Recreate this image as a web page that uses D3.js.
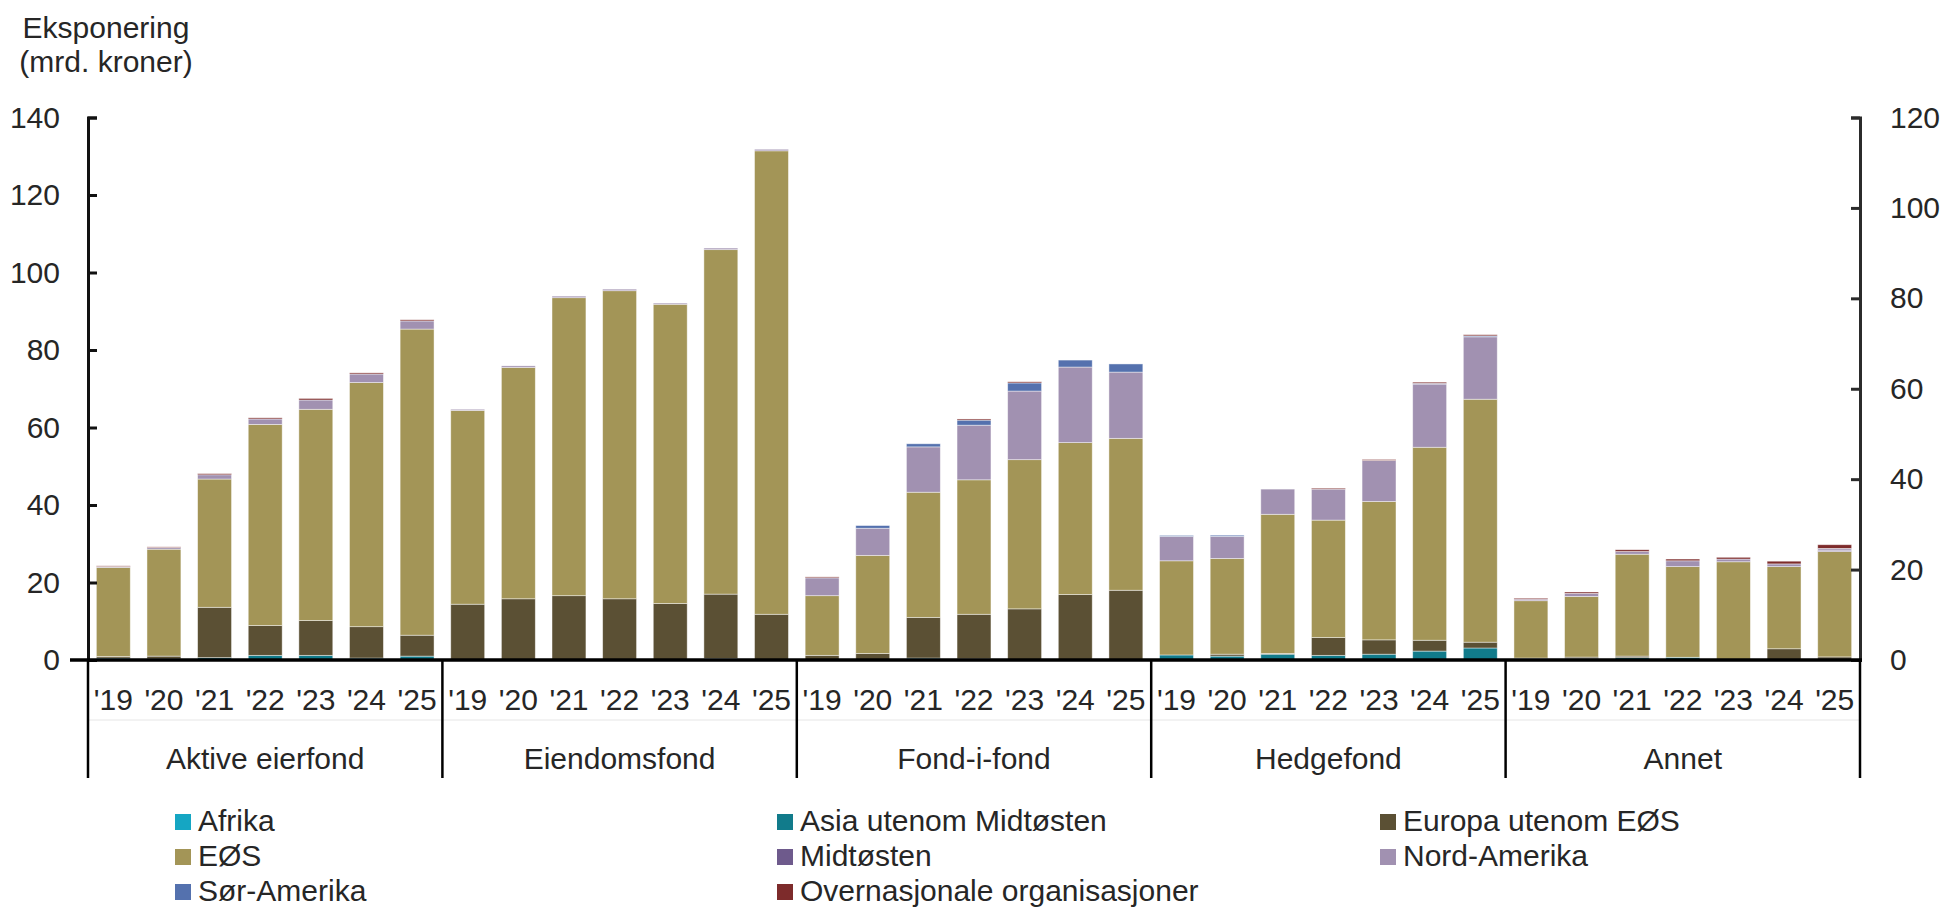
<!DOCTYPE html>
<html>
<head>
<meta charset="utf-8">
<script src="https://cdn.jsdelivr.net/npm/d3@7/dist/d3.min.js"></script>
<style>
  body { margin:0; background:#fff; }
  svg text { font-family:"Liberation Sans", Arial, sans-serif; fill:#262626; }
  .axis path, .axis line { stroke:#111; stroke-width:3; }
  .yRight path, .yRight line { stroke:#2b2b2b; }
</style>
</head>
<body>
<div id="chart"></div>
<script>
const width = 1949
const height = 909

const margin = { top:117.5, bottom:249, left:88, right:89 }

// data: group-major, 7 years per group
const groups = ["Aktive eierfond","Eiendomsfond","Fond-i-fond","Hedgefond","Annet"]
const years = ["'19","'20","'21","'22","'23","'24","'25"]
const seriesNames = ["Afrika","Asia utenom Midtøsten","Europa utenom EØS","EØS","Midtøsten","Nord-Amerika","Sør-Amerika","Overnasjonale organisasjoner"]
const colors = ["#15a6c3","#117b8b","#5b5034","#a39557","#6e5a8c","#a191b1","#5471ae","#7d2b2b"]
const leftTicks = [0,20,40,60,80,100,120,140]
const rightTicks = [0,20,40,60,80,100,120]

const afrika = [0.1,0,0.1,0.1,0.1,0.1,0.1, 0,0,0,0,0,0,0, 0,0,0,0,0,0,0, 0.1,0,0,0,0,0,0, 0,0,0,0,0,0,0]
const asia = [0.4,0.3,0.5,1.1,1.1,0.4,0.9, 0,0,0,0,0,0.4,0, 0,0,0.5,0.3,0,0,0, 1.2,1.0,1.5,1.2,1.5,2.3,3.1, 0.4,0.35,0.6,0.7,0,0,0.2]
const europaUt = [0.4,0.7,13.0,7.7,9.0,8.1,5.4, 14.4,15.8,16.6,15.8,14.6,16.6,11.8, 1.2,1.7,10.5,11.5,13.2,16.9,18.0, 0,0.5,0.2,4.6,3.7,2.8,1.5, 0.1,0.4,0.4,0,0,2.9,0.6]
const eos = [23.0,27.6,33.1,51.9,54.5,63.0,79.0, 50.0,59.7,76.9,79.5,77.2,88.9,119.6, 15.4,25.3,32.3,34.7,38.5,39.2,39.2, 24.3,24.7,35.9,30.3,35.7,49.8,62.7, 14.8,15.65,26.3,23.4,25.35,21.2,27.2]
const midtosten = [0,0,0,0,0,0,0, 0,0,0,0,0,0,0, 0,0,0,0,0,0,0, 0,0,0,0,0,0,0, 0,0,0,0,0,0,0.2]
const nordAmerika = [0.2,0.4,1.1,1.4,2.4,2.2,2.1, 0.3,0.4,0.4,0.4,0.3,0.4,0.4, 4.6,7.0,11.7,14.1,17.7,19.5,17.1, 6.3,5.7,6.5,8.0,10.6,16.3,16.1, 0.4,0.8,0.7,1.5,0.7,0.7,0.5]
const sorAmerika = [0,0,0,0,0,0,0, 0,0,0,0,0,0,0, 0,0.7,0.8,1.3,2.1,1.8,2.1, 0.25,0.3,0,0,0,0.2,0.25, 0,0,0,0,0,0,0.1]
const overnasjonale = [0.2,0.2,0.3,0.3,0.4,0.3,0.3, 0,0,0,0,0,0,0, 0.25,0,0,0.3,0.3,0,0, 0,0,0,0.25,0.25,0.3,0.3, 0.25,0.35,0.45,0.45,0.45,0.7,0.95]

const seriesValues = [afrika,asia,europaUt,eos,midtosten,nordAmerika,sorAmerika,overnasjonale]

const rows = []
groups.forEach((g,gi) => {
    years.forEach((yr,yi) => {
        const row = { group:g, year:yr }
        seriesNames.forEach((s,si) => row[s] = seriesValues[si][gi*7+yi])
        rows.push(row)
    })
})

const svg = d3.select("div#chart").append("svg").attr("width",width).attr("height",height)

const x0 = d3.scaleBand().domain(groups).range([margin.left, width - margin.right]).padding(0)
const x1 = d3.scaleBand().domain(years).range([0, x0.bandwidth()]).paddingInner(0.33).paddingOuter(0.165)
const y = d3.scaleLinear().domain([0,140]).range([height - margin.bottom, margin.top])
const yR = d3.scaleLinear().domain([0,120]).range([height - margin.bottom, margin.top])
const color = d3.scaleOrdinal().domain(seriesNames).range(colors)

const stacked = d3.stack().keys(seriesNames)(rows)

const barGroup = svg.append("g").attr("class","barGroup")
barGroup.selectAll("g").data(stacked).join("g")
    .attr("fill", d => color(d.key))
    .selectAll("rect").data(d => d).join("rect")
    .attr("x", d => x0(d.data.group) + x1(d.data.year))
    .attr("width", x1.bandwidth())
    .attr("y", d => y(d[1]))
    .attr("height", d => Math.max(0, y(d[0]) - y(d[1])))
    .attr("stroke","#fff").attr("stroke-opacity",0.55).attr("stroke-width",0.8)

// axes
const yAxis = d3.axisLeft(y).tickValues(leftTicks).tickSize(-9).tickPadding(28)
const yAxisR = d3.axisRight(yR).tickValues(rightTicks).tickSize(-9).tickPadding(30)

svg.append("g").attr("class","axis yLeft").attr("transform",`translate(${margin.left},0)`).call(yAxis)
svg.append("g").attr("class","axis yRight").attr("transform",`translate(${width - margin.right},0)`).call(yAxisR)
svg.selectAll(".axis text").style("font-size","30px")

// x axis: baseline, separators, labels
const base = height - margin.bottom
const xAxisGroup = svg.append("g").attr("class","xAxisGroup")
xAxisGroup.append("line").attr("x1",margin.left - 18).attr("x2",width - margin.right + 2)
    .attr("y1",base).attr("y2",base).attr("stroke","#000").attr("stroke-width",3.5)
xAxisGroup.append("line").attr("x1",margin.left).attr("x2",width - margin.right)
    .attr("y1",720).attr("y2",720).attr("stroke","#e6e6e6").attr("stroke-width",1)

const bounds = groups.map(g => x0(g)).concat([x0(groups[groups.length-1]) + x0.bandwidth()])
xAxisGroup.selectAll("line.sep").data(bounds).join("line").attr("class","sep")
    .attr("x1",d => d).attr("x2",d => d).attr("y1",base).attr("y2",778)
    .attr("stroke","#000").attr("stroke-width",2.5)

xAxisGroup.selectAll("text.year").data(rows).join("text").attr("class","year")
    .attr("x", d => x0(d.group) + x1(d.year) + x1.bandwidth()/2)
    .attr("y", 710).attr("text-anchor","middle").style("font-size","30px")
    .text(d => d.year)

xAxisGroup.selectAll("text.grp").data(groups).join("text").attr("class","grp")
    .attr("x", d => x0(d) + x0.bandwidth()/2)
    .attr("y", 769).attr("text-anchor","middle").style("font-size","30px")
    .text(d => d)

// y title
svg.append("text").attr("x",106).attr("y",38).attr("text-anchor","middle").style("font-size","30px").text("Eksponering")
svg.append("text").attr("x",106).attr("y",72).attr("text-anchor","middle").style("font-size","30px").text("(mrd. kroner)")

// legend
const legendX = [175,777,1380]
const legendY = [814,849,884]
const legend = svg.append("g").attr("class","legend")
const items = legend.selectAll("g").data(seriesNames).join("g")
    .attr("transform",(d,i) => `translate(${legendX[i%3]},${legendY[Math.floor(i/3)]})`)
items.append("rect").attr("width",16).attr("height",16).attr("fill",d => color(d))
items.append("text").attr("x",23).attr("y",17).style("font-size","30px").text(d => d)
</script>
</body>
</html>
